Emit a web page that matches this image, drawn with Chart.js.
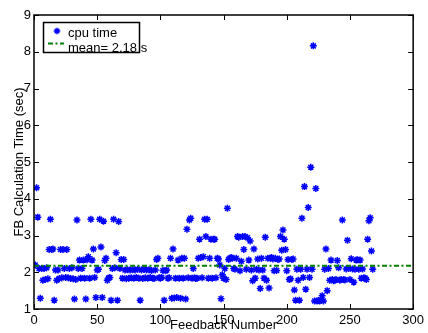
<!DOCTYPE html>
<html><head><meta charset="utf-8">
<script src="https://cdn.jsdelivr.net/npm/chart.js@4"></script>
<style>html,body{margin:0;padding:0;background:#fff;}#wrap{width:428px;height:333px;}</style>
</head><body><div id="wrap"><canvas id="c" width="428" height="333"></canvas></div>
<script>
// CPU time per feedback number (feedback 1, 2, 3, ...)
const cpuTimes = [
2.2,4.3,3.5,2.1,1.29,2.1,1.78,2.1,1.8,2.12,
1.82,2.62,3.44,2.62,2.63,1.24,2.06,1.78,2.06,1.83,
2.62,1.85,2.62,2.1,1.86,2.62,1.85,2.1,1.83,2.12,
1.82,1.27,1.8,3.42,2.1,2.33,1.84,2.1,2.33,1.84,
1.27,2.34,2.42,1.84,3.44,2.33,2.63,1.86,1.31,2.06,
2.08,3.44,2.69,1.31,3.39,2.32,2.38,1.78,1.84,1.86,
1.24,2.1,3.44,2.12,2.53,1.24,3.38,2.1,2.35,1.84,
2.35,2.06,1.82,2.07,1.84,2.06,1.85,2.07,1.84,2.06,
1.86,2.08,1.84,1.24,2.06,1.83,2.08,1.85,2.06,1.84,
2.07,1.86,2.05,1.84,1.83,2.06,2.35,2.38,1.85,1.84,
1.86,2.05,1.24,2.04,2.06,1.84,1.85,2.38,1.29,2.63,
1.3,1.84,1.31,2.33,1.84,1.29,2.38,1.84,2.38,1.27,
3.17,1.85,3.42,3.47,1.84,2.1,1.85,1.83,1.84,2.38,
2.9,2.4,1.85,2.42,3.44,2.97,3.44,1.84,2.38,2.9,
1.84,2.9,2.9,1.85,2.38,2.36,2.2,1.28,1.93,1.84,
2.1,1.8,3.74,2.35,2.38,2.4,2.38,2.1,2.08,2.38,
2.97,2.95,2.04,2.3,2.97,2.62,2.97,2.08,2.94,2.33,
2.85,2.06,1.77,2.63,1.84,2.08,2.36,2.06,1.56,2.38,
2.06,1.84,2.95,1.78,2.38,1.57,2.38,2.4,2.36,2.04,
2.38,2.05,2.35,2.36,2.97,2.6,3.15,2.9,2.62,2.04,
2.35,1.8,1.82,2.35,2.36,1.52,1.24,2.08,1.78,1.24,
2.08,3.47,1.86,4.33,1.54,2.08,3.76,1.86,4.86,2.08,
8.16,1.22,4.28,1.22,1.23,1.22,1.24,1.36,1.22,2.08,
2.63,1.5,2.1,1.78,2.33,1.8,1.77,1.78,1.8,2.32,
2.12,1.78,1.8,3.42,1.8,1.79,2.09,2.87,2.1,1.8,
2.37,2.09,1.73,2.08,2.33,2.34,2.08,2.33,1.84,2.09,
1.85,1.84,1.8,2.9,3.4,3.48,2.58,2.08
];
const meanValue = 2.18;
const meanSpan = [0, 300];
const xTicks = [0, 50, 100, 150, 200, 250, 300];
const yTicks = [1, 2, 3, 4, 5, 6, 7, 8, 9];
const seriesLabels = ['cpu time', 'mean= 2.18 s'];
const axisTitles = ['Feedback Number', 'FB Calculation Time (sec)'];

const FONT = 'Liberation Sans, Arial, Helvetica, sans-serif';
const BLUE = '#0000ff';
const GREEN = '#008000';
const DASH = [5, 2.5, 2, 2.5];

const boxPlugin = {
  id: 'matlabBox',
  afterDatasetsDraw(chart) {
    const {ctx, chartArea: a, scales} = chart;
    ctx.save();
    ctx.strokeStyle = '#000';
    ctx.lineWidth = 1.5;
    ctx.strokeRect(a.left, a.top, a.right - a.left, a.bottom - a.top);
    ctx.lineWidth = 1;
    ctx.beginPath();
    xTicks.forEach(v => {
      const p = Math.round(scales.x.getPixelForValue(v)) + 0.5;
      ctx.moveTo(p, a.bottom); ctx.lineTo(p, a.bottom - 5);
      ctx.moveTo(p, a.top); ctx.lineTo(p, a.top + 5);
    });
    yTicks.forEach(v => {
      const p = Math.round(scales.y.getPixelForValue(v)) + 0.5;
      ctx.moveTo(a.left, p); ctx.lineTo(a.left + 5, p);
      ctx.moveTo(a.right, p); ctx.lineTo(a.right - 5, p);
    });
    ctx.stroke();
    // legend
    const lx = 43.5, ly = 22.5, lw = 96, lh = 30;
    ctx.fillStyle = '#fff';
    ctx.fillRect(lx, ly, lw, lh);
    ctx.lineWidth = 1.5;
    ctx.strokeStyle = '#000';
    ctx.strokeRect(lx, ly, lw, lh);
    // marker
    ctx.strokeStyle = BLUE; ctx.lineWidth = 1.5;
    const mx = 57, my = 31, r = 3.3;
    ctx.beginPath();
    ctx.moveTo(mx - r, my); ctx.lineTo(mx + r, my);
    ctx.moveTo(mx, my - r); ctx.lineTo(mx, my + r);
    const d = r * 0.7;
    ctx.moveTo(mx - d, my - d); ctx.lineTo(mx + d, my + d);
    ctx.moveTo(mx - d, my + d); ctx.lineTo(mx + d, my - d);
    ctx.stroke();
    ctx.strokeStyle = GREEN; ctx.lineWidth = 2;
    ctx.setLineDash(DASH);
    ctx.beginPath(); ctx.moveTo(48, 43.5); ctx.lineTo(64, 43.5); ctx.stroke();
    ctx.setLineDash([]);
    ctx.fillStyle = '#000';
    ctx.font = '13px ' + FONT;
    ctx.textBaseline = 'alphabetic';
    ctx.fillText(seriesLabels[0], 68, 37);
    ctx.fillText(seriesLabels[1], 68, 52);
    ctx.restore();
  }
};

new Chart(document.getElementById('c'), {
  type: 'scatter',
  data: {
    datasets: [
      {
        label: seriesLabels[0],
        data: cpuTimes.map((v, i) => ({x: i + 1, y: v})),
        pointStyle: 'star',
        radius: 3.5,
        borderWidth: 1.5,
        borderColor: BLUE,
        backgroundColor: BLUE,
        order: 2
      },
      {
        label: seriesLabels[1],
        type: 'line',
        data: meanSpan.map(x => ({x: x, y: meanValue})),
        borderColor: GREEN,
        borderWidth: 2,
        borderDash: DASH,
        pointRadius: 0,
        fill: false,
        order: 1
      }
    ]
  },
  options: {
    responsive: false,
    animation: false,
    devicePixelRatio: 1,
    layout: {padding: {top: 15, right: 9, left: 0, bottom: 0}},
    plugins: {legend: {display: false}, tooltip: {enabled: false}},
    scales: {
      x: {
        type: 'linear', min: 0, max: 300,
        afterBuildTicks: s => { s.ticks = xTicks.map(v => ({value: v})); },
        ticks: {color: '#000', font: {family: FONT, size: 13}, padding: 4, maxRotation: 0, autoSkip: false},
        grid: {display: false, drawTicks: false},
        border: {display: false},
        title: {display: true, text: axisTitles[0], color: '#000', font: {family: FONT, size: 13}, padding: {top: -10, bottom: 0}},
        afterFit: s => { s.height = 24; }
      },
      y: {
        type: 'linear', min: 1, max: 9,
        afterBuildTicks: s => { s.ticks = yTicks.map(v => ({value: v})); },
        ticks: {color: '#000', font: {family: FONT, size: 13}, padding: 3, autoSkip: false},
        grid: {display: false, drawTicks: false},
        border: {display: false},
        title: {display: true, text: axisTitles[1], color: '#000', font: {family: FONT, size: 13}, padding: {top: 12, bottom: 0}},
        afterFit: s => { s.width = 34; }
      }
    }
  },
  plugins: [boxPlugin]
});
</script>
</body></html>
